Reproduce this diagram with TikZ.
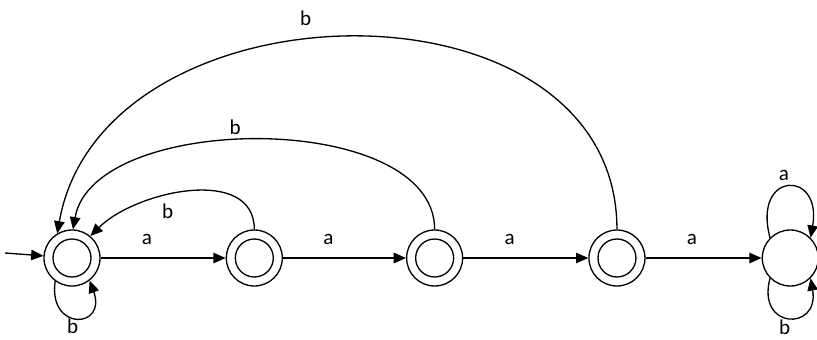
\documentclass[tikz,border=0pt]{standalone}
\usepackage{fontspec}
\setmainfont{Carlito}
\usetikzlibrary{arrows.meta, positioning}

\begin{document}
\begin{tikzpicture}[
  >={Triangle[length=7pt,width=6pt]},
  line width=0.75pt,
  state/.style={draw, circle, minimum size=11.2mm, inner sep=0pt},
  accept/.style={state, path picture={\draw (path picture bounding box.center) circle (3.8mm);}},
  lbl/.style={font=\fontsize{12}{14}\selectfont}]
\useasboundingbox (0,0) rectangle (16.34,6.78);
\node[accept] (q0) at (1.44,1.62) {};
\node[accept, right=25mm of q0] (q1) {};
\node[accept, right=24.6mm of q1] (q2) {};
\node[accept, right=25mm of q2] (q3) {};
\node[state, right=23.2mm of q3] (dead) {};
\coordinate (start) at (0.10,1.72);
\draw[->] (start) -- (q0);
\draw[->] (q0) -- node[lbl, above=4pt, pos=0.37]{a} (q1);
\draw[->] (q1) -- node[lbl, above=4pt, pos=0.37]{a} (q2);
\draw[->] (q2) -- node[lbl, above=4pt, pos=0.37]{a} (q3);
\draw[->] (q3) -- node[lbl, above=4pt, pos=0.4]{a} (dead);
\draw[->] (q1.north) to[out=90, in=45] node[lbl, below=1pt, pos=0.6]{b} (q0.50);
\draw[->] (q2.north) to[out=90, in=80, looseness=0.85] node[lbl, above, pos=0.55]{b} (q0.88);
\draw[->] (q3.north) to[out=90, in=80, looseness=1.19] node[lbl, above=5pt, pos=0.56]{b} (q0.121);
\draw[->] (q0.234) to[out=262, in=290, looseness=3.8] node[lbl, below, inner sep=0.5pt, pos=0.45]{b} (q0.308);
\draw[->] (dead.135) to[out=105, in=80, looseness=4.4] node[lbl, above, pos=0.45]{a} (dead.45);
\draw[->] (dead.225) to[out=255, in=280, looseness=3.4] node[lbl, below, inner sep=1pt, pos=0.45]{b} (dead.315);
\end{tikzpicture}
\end{document}
